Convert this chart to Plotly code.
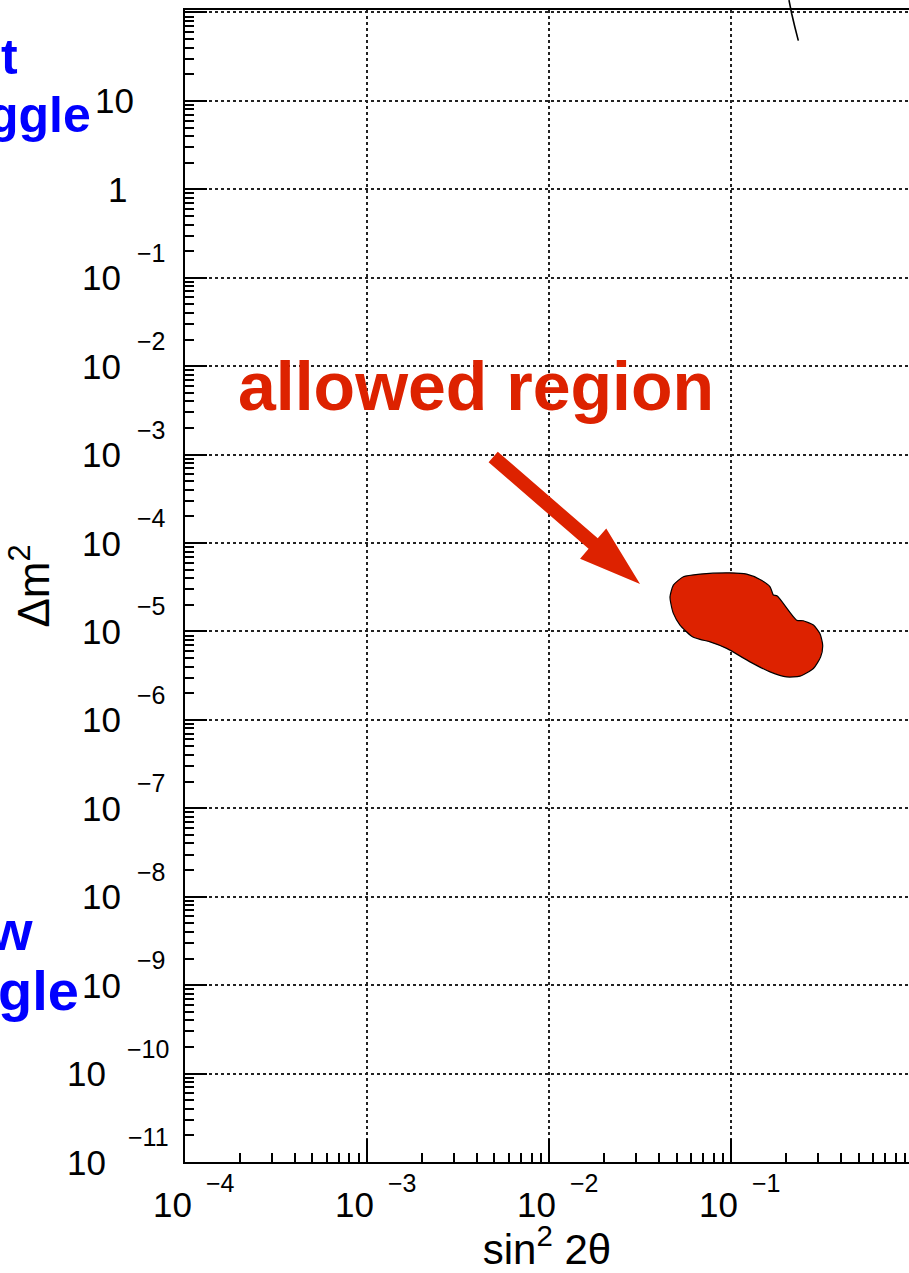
import math
import plotly.graph_objects as go

# ---- data -------------------------------------------------------------
# Contour of the allowed region (sin^2 2theta, delta m^2 in eV^2)
region_sin2 = [0.0460, 0.0480, 0.0545, 0.0673, 0.0982, 0.1213, 0.1435, 0.163,
               0.168, 0.170, 0.1786, 0.228, 0.248, 0.282, 0.306, 0.317,
               0.309, 0.282, 0.238, 0.201, 0.163, 0.1265, 0.0942, 0.0764,
               0.0673, 0.0605, 0.0522, 0.0480, 0.0465]
region_dm2 = [2.46e-5, 3.34e-5, 4.15e-5, 4.45e-5, 4.60e-5, 4.45e-5, 3.87e-5, 3.20e-5,
              2.72e-5, 2.58e-5, 2.51e-5, 1.34e-5, 1.32e-5, 1.18e-5, 9.48e-6, 7.00e-6,
              5.16e-6, 3.81e-6, 3.12e-6, 3.06e-6, 3.49e-6, 4.53e-6, 6.43e-6, 7.62e-6,
              8.13e-6, 8.85e-6, 1.18e-5, 1.60e-5, 2.07e-5]

# Fragment of another exclusion curve entering from the top
curve_sin2 = [0.207, 0.214, 0.223, 0.233]
curve_dm2 = [138.0, 98.0, 68.6, 48.0]

# Arrow pointing at the allowed region (tail, tip)
arrow_tail = (0.00492, 9.4e-4)
arrow_tip = (0.0315, 3.43e-5)

# Decade exponents that carry labels
x_tick_exps = [-4, -3, -2, -1]
y_tick_exps = [-11, -10, -9, -8, -7, -6, -5, -4, -3, -2, -1, 0, 1]

# ---- layout constants ---------------------------------------------------
W, H = 909, 1273
M = dict(l=185, r=0, t=10, b=111)
X_RANGE = [-4.0, -0.025]
Y_RANGE = [-11.0, 2.028]
PW, PH = W - M["l"] - M["r"], H - M["t"] - M["b"]
FONT = "Liberation Sans, Arial, Helvetica, sans-serif"
RED = "#DD2200"
BLUE = "#0000FF"
MINUS = "\u2212"


def to_px(x, y):
    """data -> plot-area pixels (origin bottom-left)"""
    fx = (math.log10(x) - X_RANGE[0]) / (X_RANGE[1] - X_RANGE[0])
    fy = (math.log10(y) - Y_RANGE[0]) / (Y_RANGE[1] - Y_RANGE[0])
    return fx * PW, fy * PH


def path_from_px(points, close=True):
    parts = []
    for i, (px, py) in enumerate(points):
        parts.append(("M" if i == 0 else "L") + f"{px / PW:.5f},{py / PH:.5f}")
    return " ".join(parts) + (" Z" if close else "")


# arrow polygon built in pixel space so the head keeps its shape
tx, ty = to_px(*arrow_tail)
hx, hy = to_px(*arrow_tip)
L = math.hypot(hx - tx, hy - ty)
ux, uy = (hx - tx) / L, (hy - ty) / L
nx, ny = -uy, ux
shaft_hw, head_len, head_hw = 7.0, 62.0, 20.0
bx, by = hx - head_len * ux, hy - head_len * uy
arrow_pts = [
    (tx + shaft_hw * nx, ty + shaft_hw * ny),
    (bx + shaft_hw * nx, by + shaft_hw * ny),
    (bx + head_hw * nx, by + head_hw * ny),
    (hx, hy),
    (bx - head_hw * nx, by - head_hw * ny),
    (bx - shaft_hw * nx, by - shaft_hw * ny),
    (tx - shaft_hw * nx, ty - shaft_hw * ny),
]
curve_pts = [to_px(a, b) for a, b in zip(curve_sin2, curve_dm2)]

fig = go.Figure()

fig.add_trace(go.Scatter(
    x=region_sin2 + region_sin2[:1], y=region_dm2 + region_dm2[:1],
    mode="lines", fill="toself", fillcolor=RED,
    line=dict(color="black", width=1.2, shape="spline", smoothing=0.6),
    hoverinfo="skip", showlegend=False,
))

fig.add_shape(type="path", xref="paper", yref="paper", path=path_from_px(arrow_pts),
              fillcolor=RED, line=dict(width=0), layer="above")
fig.add_shape(type="path", xref="paper", yref="paper",
              path=path_from_px(curve_pts, close=False),
              line=dict(color="black", width=1.6), layer="above")


def pxpos(px, py):
    """figure pixel (from top-left) -> paper coords"""
    return (px - M["l"]) / PW, (H - M["b"] - py) / PH


def label(text, px, py_mid, size, color, anchor="right"):
    x, y = pxpos(px, py_mid)
    fig.add_annotation(text=text, xref="paper", yref="paper", x=x, y=y,
                       xanchor=anchor, yanchor="middle", showarrow=False,
                       font=dict(family=FONT, size=size, color=color))


label("<b>allowed region</b>", 236, 386, 68, RED, anchor="left")
label("<b>t</b>", 20, 57, 50, BLUE)
label("<b>ggle</b>", 93, 115, 50, BLUE)
label("<b>w</b>", 35, 930, 56, BLUE)
label("<b>gle</b>", 81, 990, 56, BLUE)

# ---- decade labels in "10 with raised exponent" style -------------------
BASE_SIZE, EXP_SIZE = 35, 25
tick_font = dict(family=FONT, size=BASE_SIZE, color="black")
exp_font = dict(family=FONT, size=EXP_SIZE, color="black")

for p in y_tick_exps:
    if p == 1:
        fig.add_annotation(text="10", xref="paper", yref="y", x=(136 - M["l"]) / PW, y=p,
                           xanchor="right", yanchor="middle", showarrow=False, font=tick_font)
    elif p == 0:
        fig.add_annotation(text="1", xref="paper", yref="y", x=(129 - M["l"]) / PW, y=p,
                           xanchor="right", yanchor="middle", showarrow=False, font=tick_font)
    else:
        two = abs(p) >= 10
        fig.add_annotation(text="10", xref="paper", yref="y",
                           x=((108 if two else 123) - M["l"]) / PW, y=p,
                           xanchor="right", yanchor="middle", showarrow=False, font=tick_font)
        fig.add_annotation(text=f"{MINUS}{abs(p)}", xref="paper", yref="y",
                           x=((171 if two else 168) - M["l"]) / PW, y=p, yshift=25,
                           xanchor="right", yanchor="middle", showarrow=False, font=exp_font)

for p in x_tick_exps:
    fig.add_annotation(text="10", xref="x", yref="paper", x=p, xshift=-12.5,
                       y=(H - M["b"] - 1204) / PH,
                       xanchor="center", yanchor="middle", showarrow=False, font=tick_font)
    fig.add_annotation(text=f"{MINUS}{abs(p)}", xref="x", yref="paper", x=p, xshift=35,
                       y=(H - M["b"] - 1183) / PH,
                       xanchor="center", yanchor="middle", showarrow=False, font=exp_font)

axis_common = dict(
    type="log", showline=True, linecolor="black", linewidth=2,
    ticks="inside", tickcolor="black", tickwidth=2,
    dtick=1, showticklabels=False,
    showgrid=True, gridcolor="#222222", gridwidth=1.5, griddash="dot",
    zeroline=False,
    minor=dict(dtick="D1", ticks="inside", ticklen=9, tickcolor="black",
               tickwidth=2, showgrid=False),
)

fig.update_xaxes(**axis_common, range=X_RANGE, ticklen=23, mirror=True,
                 title=dict(text="sin<sup>2</sup> 2θ", standoff=77,
                            font=dict(family=FONT, size=42, color="black")))
fig.update_yaxes(**axis_common, range=Y_RANGE, ticklen=22,
                 title=dict(text="Δm<sup>2</sup>", standoff=120,
                            font=dict(family=FONT, size=44, color="black")))

fig.update_layout(
    width=W, height=H, margin=M,
    paper_bgcolor="white", plot_bgcolor="white",
    showlegend=False,
)

fig.write_html("out.html")
